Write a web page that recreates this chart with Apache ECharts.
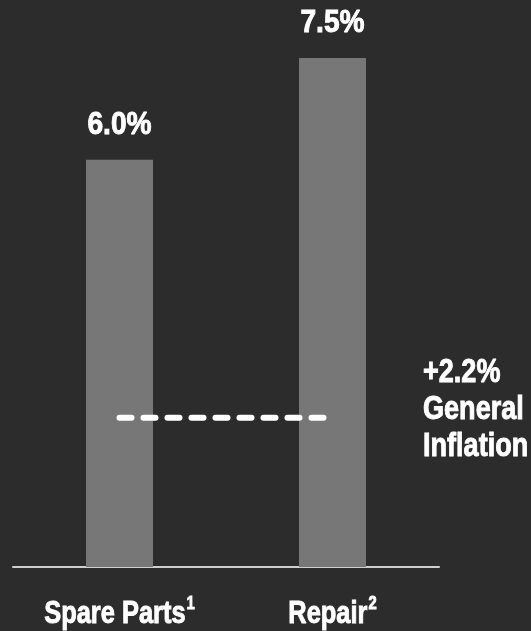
<!DOCTYPE html>
<html>
<head>
<meta charset="utf-8">
<script src="https://cdn.jsdelivr.net/npm/echarts@6/dist/echarts.min.js"></script>
<style>
  html, body { margin: 0; padding: 0; background: #2c2c2c; }
  #chart { width: 531px; height: 631px; }
</style>
</head>
<body>
<div id="chart"></div>
<script>
// Price increase by category, with general inflation for comparison
const categories = ['Spare Parts', 'Repair'];
const footnotes = ['1', '2'];
const increases = [6.0, 7.5];
const inflation = 2.2;
const inflationLines = ['General', 'Inflation'];

const FONT = '"Liberation Sans", Arial, sans-serif';
const NARROW = 0.82;   // horizontal squeeze to get a condensed look
const INK = { fill: '#ffffff', stroke: '#ffffff', lineWidth: 0.9 };  // heavier strokes

// text width helper
const measureCtx = document.createElement('canvas').getContext('2d');
function textWidth(str, size) {
  measureCtx.font = 'bold ' + size + 'px ' + FONT;
  return measureCtx.measureText(str).width;
}

const chart = echarts.init(document.getElementById('chart'), null, { renderer: 'canvas' });

// value label above each bar plus the category name (with footnote) below the axis
function renderLabels(params, api) {
  const i = api.value(0);
  const v = api.value(1);
  const top = api.coord([i, v]);
  const base = api.coord([i, 0]);
  const name = categories[i];
  const note = footnotes[i];
  const wName = textWidth(name, 31) * NARROW;
  const wNote = textWidth(note, 18) * NARROW;
  const left = base[0] - (wName + 1 + wNote) / 2;
  return {
    type: 'group',
    children: [
      {
        type: 'text',
        x: top[0], y: top[1] - 35,
        scaleX: 0.88,
        style: Object.assign({
          text: v.toFixed(1) + '%',
          font: 'bold 32px ' + FONT,
          align: 'center',
          verticalAlign: 'middle'
        }, INK)
      },
      {
        type: 'text',
        x: left, y: base[1] + 47,
        scaleX: NARROW,
        style: Object.assign({
          text: name,
          font: 'bold 31px ' + FONT,
          align: 'left',
          verticalAlign: 'middle'
        }, INK)
      },
      {
        type: 'text',
        x: left + wName + 1, y: base[1] + 37,
        scaleX: NARROW,
        style: Object.assign({
          text: note,
          font: 'bold 18px ' + FONT,
          align: 'left',
          verticalAlign: 'middle'
        }, INK)
      }
    ]
  };
}

chart.setOption({
  backgroundColor: '#2c2c2c',
  animation: false,
  grid: { left: 13, right: 92, top: 24, bottom: 64, containLabel: false },
  xAxis: {
    type: 'category',
    data: categories,
    axisLine: { show: true, lineStyle: { color: '#cfcfcf', width: 2 } },
    axisTick: { show: false },
    axisLabel: { show: false }
  },
  yAxis: {
    type: 'value',
    min: 0,
    max: 8,
    show: false,
    splitLine: { show: false }
  },
  series: [
    {
      type: 'bar',
      data: increases,
      barWidth: 67,
      itemStyle: { color: '#777777' },
      z: 2
    },
    {
      type: 'line',
      data: categories.map(() => inflation),
      symbol: 'none',
      lineStyle: { color: '#ffffff', width: 6, type: [12, 12], cap: 'round' },
      z: 3
    },
    {
      type: 'custom',
      data: increases.map((v, i) => [i, v]),
      renderItem: renderLabels,
      clip: false,
      silent: true,
      z: 4
    }
  ],
  graphic: [
    {
      type: 'text',
      x: 423,
      y: 354,
      scaleX: NARROW,
      style: Object.assign({
        text: '+' + inflation.toFixed(1) + '%\n' + inflationLines.join('\n'),
        font: 'bold 33px ' + FONT,
        lineHeight: 37,
        verticalAlign: 'top'
      }, INK)
    }
  ]
});
</script>
</body>
</html>
